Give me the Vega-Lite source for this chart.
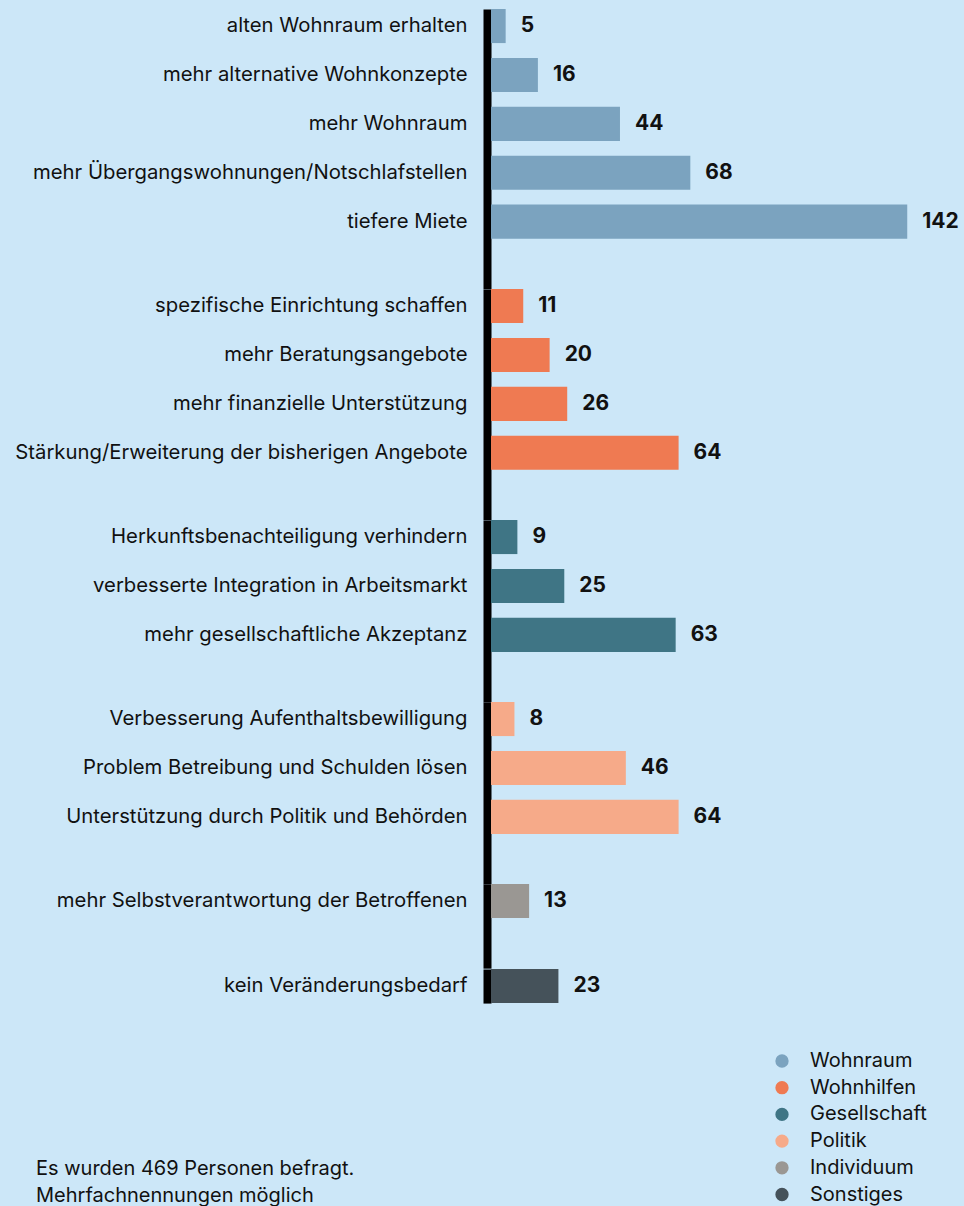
{
  "$schema": "https://vega.github.io/schema/vega-lite/v6.json",
  "background": "#cce7f8",
  "padding": {"left": 14, "top": 9, "right": 5, "bottom": 0},
  "bounds": "flush",
  "spacing": 0,
  "config": {
    "view": {"stroke": null},
    "font": "Inter",
    "axisY": {
      "domain": true, "domainColor": "#000000", "domainWidth": 8, "domainCap": "butt",
      "ticks": false, "grid": false, "labelFontSize": 20.3, "labelColor": "#111111",
      "labelPadding": 20, "offset": 4, "labelLimit": 700, "labelFont": "Inter", "title": null
    },
    "text": {"font": "Inter"}
  },
  "datasets": {
    "d": [
      {"label": "alten Wohnraum erhalten", "value": 5, "group": "Wohnraum"},
      {"label": "mehr alternative Wohnkonzepte", "value": 16, "group": "Wohnraum"},
      {"label": "mehr Wohnraum", "value": 44, "group": "Wohnraum"},
      {"label": "mehr Übergangswohnungen/Notschlafstellen", "value": 68, "group": "Wohnraum"},
      {"label": "tiefere Miete", "value": 142, "group": "Wohnraum"},
      {"label": "spezifische Einrichtung schaffen", "value": 11, "group": "Wohnhilfen"},
      {"label": "mehr Beratungsangebote", "value": 20, "group": "Wohnhilfen"},
      {"label": "mehr finanzielle Unterstützung", "value": 26, "group": "Wohnhilfen"},
      {"label": "Stärkung/Erweiterung der bisherigen Angebote", "value": 64, "group": "Wohnhilfen"},
      {"label": "Herkunftsbenachteiligung verhindern", "value": 9, "group": "Gesellschaft"},
      {"label": "verbesserte Integration in Arbeitsmarkt", "value": 25, "group": "Gesellschaft"},
      {"label": "mehr gesellschaftliche Akzeptanz", "value": 63, "group": "Gesellschaft"},
      {"label": "Verbesserung Aufenthaltsbewilligung", "value": 8, "group": "Politik"},
      {"label": "Problem Betreibung und Schulden lösen", "value": 46, "group": "Politik"},
      {"label": "Unterstützung durch Politik und Behörden", "value": 64, "group": "Politik"},
      {"label": "mehr Selbstverantwortung der Betroffenen", "value": 13, "group": "Individuum"},
      {"label": "kein Veränderungsbedarf", "value": 23, "group": "Sonstiges"}
    ]
  },
  "data": {"name": "d"},
  "resolve": {"scale": {"x": "shared", "y": "independent", "color": "shared"}},
  "title": {
    "text": ["Es wurden 469 Personen befragt.", "Mehrfachnennungen möglich"],
    "orient": "bottom", "anchor": "start", "frame": "group",
    "fontSize": 20, "fontWeight": "normal", "lineHeight": 27, "color": "#111111",
    "font": "Inter", "offset": -46, "dx": -455
  },
  "vconcat": [
    {
      "height": {"step": 48.9}, "width": 469,
      "transform": [{"filter": "datum.group === 'Wohnraum'"}],
      "encoding": {
        "y": {"field": "label", "type": "nominal", "sort": null, "scale": {"paddingInner": 0.303, "paddingOuter": 0.512, "align": 0}},
        "x": {"field": "value", "type": "quantitative", "scale": {"domain": [0, 160]}, "axis": null}
      },
      "layer": [
        {"mark": {"type": "bar"}, "encoding": {"color": {"field": "group", "type": "nominal",
          "scale": {"domain": ["Wohnraum", "Wohnhilfen", "Gesellschaft", "Politik", "Individuum", "Sonstiges"],
                    "range": ["#7ba3bf", "#ef7a52", "#3f7585", "#f6aa89", "#9a9793", "#45525a"]},
          "legend": {"orient": "none", "legendX": 281, "legendY": 1042, "title": null, "symbolType": "circle",
                     "symbolSize": 177, "symbolOpacity": 1, "labelFontSize": 20, "labelFont": "Inter", "labelColor": "#111111",
                     "labelOffset": 18, "rowPadding": 6.7}}}},
        {"mark": {"type": "text", "align": "left", "baseline": "middle", "dx": 15, "fontWeight": "bold", "fontSize": 21, "color": "#111111"},
         "encoding": {"text": {"field": "value", "type": "quantitative"}}}
      ]
    },
    {
      "height": {"step": 48.9}, "width": 469,
      "transform": [{"filter": "datum.group === 'Wohnhilfen'"}],
      "encoding": {
        "y": {"field": "label", "type": "nominal", "sort": null, "scale": {"paddingInner": 0.303, "paddingOuter": 0.512, "align": 0}},
        "x": {"field": "value", "type": "quantitative", "scale": {"domain": [0, 160]}, "axis": null}
      },
      "layer": [
        {"mark": {"type": "bar"}, "encoding": {"color": {"field": "group", "type": "nominal"}}},
        {"mark": {"type": "text", "align": "left", "baseline": "middle", "dx": 15, "fontWeight": "bold", "fontSize": 21, "color": "#111111"},
         "encoding": {"text": {"field": "value", "type": "quantitative"}}}
      ]
    },
    {
      "height": {"step": 48.9}, "width": 469,
      "transform": [{"filter": "datum.group === 'Gesellschaft'"}],
      "encoding": {
        "y": {"field": "label", "type": "nominal", "sort": null, "scale": {"paddingInner": 0.303, "paddingOuter": 0.512, "align": 0}},
        "x": {"field": "value", "type": "quantitative", "scale": {"domain": [0, 160]}, "axis": null}
      },
      "layer": [
        {"mark": {"type": "bar"}, "encoding": {"color": {"field": "group", "type": "nominal"}}},
        {"mark": {"type": "text", "align": "left", "baseline": "middle", "dx": 15, "fontWeight": "bold", "fontSize": 21, "color": "#111111"},
         "encoding": {"text": {"field": "value", "type": "quantitative"}}}
      ]
    },
    {
      "height": {"step": 48.9}, "width": 469,
      "transform": [{"filter": "datum.group === 'Politik'"}],
      "encoding": {
        "y": {"field": "label", "type": "nominal", "sort": null, "scale": {"paddingInner": 0.303, "paddingOuter": 0.512, "align": 0}},
        "x": {"field": "value", "type": "quantitative", "scale": {"domain": [0, 160]}, "axis": null}
      },
      "layer": [
        {"mark": {"type": "bar"}, "encoding": {"color": {"field": "group", "type": "nominal"}}},
        {"mark": {"type": "text", "align": "left", "baseline": "middle", "dx": 15, "fontWeight": "bold", "fontSize": 21, "color": "#111111"},
         "encoding": {"text": {"field": "value", "type": "quantitative"}}}
      ]
    },
    {
      "height": {"step": 48.9}, "width": 469,
      "transform": [{"filter": "datum.group === 'Individuum'"}],
      "encoding": {
        "y": {"field": "label", "type": "nominal", "sort": null, "scale": {"paddingInner": 0.303, "paddingOuter": 0.512, "align": 0}},
        "x": {"field": "value", "type": "quantitative", "scale": {"domain": [0, 160]}, "axis": null}
      },
      "layer": [
        {"mark": {"type": "bar"}, "encoding": {"color": {"field": "group", "type": "nominal"}}},
        {"mark": {"type": "text", "align": "left", "baseline": "middle", "dx": 15, "fontWeight": "bold", "fontSize": 21, "color": "#111111"},
         "encoding": {"text": {"field": "value", "type": "quantitative"}}}
      ]
    },
    {
      "height": {"step": 48.9}, "width": 469,
      "transform": [{"filter": "datum.group === 'Sonstiges'"}],
      "encoding": {
        "y": {"field": "label", "type": "nominal", "sort": null, "scale": {"paddingInner": 0.303, "paddingOuter": 0, "align": 0}},
        "x": {"field": "value", "type": "quantitative", "scale": {"domain": [0, 160]}, "axis": null}
      },
      "layer": [
        {"mark": {"type": "bar"}, "encoding": {"color": {"field": "group", "type": "nominal"}}},
        {"mark": {"type": "text", "align": "left", "baseline": "middle", "dx": 15, "fontWeight": "bold", "fontSize": 21, "color": "#111111"},
         "encoding": {"text": {"field": "value", "type": "quantitative"}}}
      ]
    }
  ]
}
